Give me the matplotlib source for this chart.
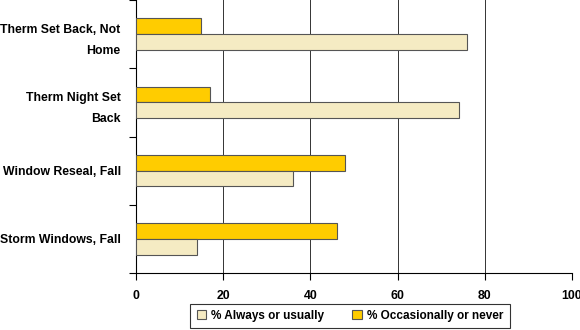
import matplotlib
matplotlib.use("Agg")
import matplotlib.pyplot as plt
import numpy as np

categories = ["Therm Set Back, Not\nHome", "Therm Night Set\nBack", "Window Reseal, Fall", "Storm Windows, Fall"]
always = [76, 74, 36, 14]
occasionally = [15, 17, 48, 46]
xticks = [0, 20, 40, 60, 80, 100]

plt.rcParams['font.family'] = ['Liberation Sans', 'DejaVu Sans']

fig = plt.figure(figsize=(5.8, 3.3), dpi=100)
ax = fig.add_axes([136/580, 1 - 273/330, (572-136)/580, 273/330])

y = np.arange(len(categories))
h = 0.23
ax.barh(y - h/2, occasionally, height=h, color="#FFCC00", edgecolor="#555555", linewidth=0.8,
        label="% Occasionally or never", zorder=3)
ax.barh(y + h/2, always, height=h, color="#F5EBC3", edgecolor="#555555", linewidth=0.8,
        label="% Always or usually", zorder=3)

ax.set_xlim(0, 100)
ax.set_ylim(len(categories) - 0.5, -0.5)
ax.set_xticks(xticks)
ax.set_xticklabels([str(t) for t in xticks], fontsize=8.8, fontweight="bold")
ax.set_yticks(y)
ax.set_yticklabels(categories, fontsize=8.8, fontweight="bold", linespacing=2.0)
ax.set_yticks(np.arange(len(categories) + 1) - 0.5, minor=True)
ax.tick_params(axis="y", which="major", length=0, pad=11)
ax.tick_params(axis="y", which="minor", length=5, width=0.8, direction="out")
ax.tick_params(axis="x", length=5, width=0.8, direction="out", pad=7)
ax.xaxis.grid(True, color="#333333", linewidth=0.7, zorder=0)
for s in ["top", "right"]:
    ax.spines[s].set_visible(False)
ax.spines["left"].set_linewidth(0.8)
ax.spines["bottom"].set_linewidth(0.8)

handles, labels = ax.get_legend_handles_labels()
leg = fig.legend(handles[::-1], labels[::-1], loc="center", bbox_to_anchor=(350/580, 1 - 316/330),
                 ncol=2, frameon=True, fancybox=False, edgecolor="black",
                 prop={"weight": "bold", "size": 8.5}, handlelength=0.8, handleheight=0.8,
                 handletextpad=0.4, columnspacing=2.4, borderpad=0.55)
leg.get_frame().set_linewidth(0.8)

fig.savefig("out.png", dpi=100)
